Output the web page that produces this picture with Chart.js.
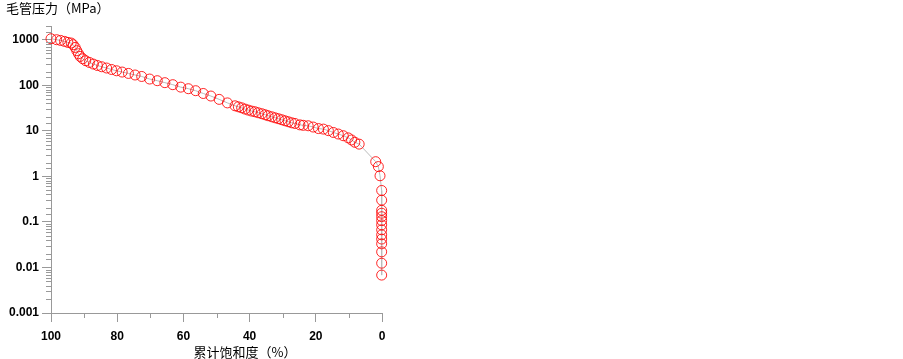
<!DOCTYPE html>
<html>
<head>
<meta charset="utf-8">
<script src="https://cdn.jsdelivr.net/npm/chart.js@4"></script>
<style>
  body { margin: 0; background: #fff; }
</style>
</head>
<body>
<canvas id="myChart" width="903" height="359"></canvas>
<script>
// data
const saturation = [100, 98.3, 97.1, 95.9, 94.9, 93.9, 93.3, 92.7, 92.2, 91.7,
  91.2, 90.4, 89.5, 88.4, 87.2, 86.0, 84.7, 83.2, 81.7, 80.2,
  78.5, 76.6, 74.6, 72.6, 70.2, 67.9, 65.6, 63.2, 60.8, 58.5,
  56.3, 54.0, 51.7, 49.2, 46.7,
  44.4, 43.4, 42.4, 41.4, 40.4, 39.4, 38.4, 37.4, 36.3, 35.3,
  34.4, 33.3, 32.3, 31.3, 30.3, 29.3, 28.3, 27.3, 26.3, 24.8,
  23.8, 22.3, 20.8, 19.2, 17.7, 16.2, 14.7, 13.2, 11.7, 10.2,
  9.2, 8.2, 6.9,
  1.9, 1.1, 0.6,
  0.1, 0.1, 0.1, 0.1, 0.1, 0.1, 0.1, 0.1, 0.1, 0.1, 0.1, 0.1, 0.1, 0.1];

const pressure = [1050, 1000, 965, 918, 873, 846, 776, 677, 573, 492,
  430, 382, 345, 317, 292, 272, 255, 239, 222, 208,
  195, 182, 168, 156, 137, 126, 114, 103, 91, 84,
  76, 66, 58, 49, 41,
  35.4, 33.6, 32.0, 30.0, 28.5, 27.1, 26.2, 24.9, 23.7, 22.5,
  21.4, 20.3, 19.3, 18.4, 17.5, 16.6, 15.8, 15.0, 14.5, 13.5,
  13.2, 12.9, 12.1, 11.2, 10.9, 10.1, 9.2, 8.5, 7.8, 7.0,
  6.3, 5.6, 5.1,
  2.1, 1.64, 1.03,
  0.49, 0.30, 0.18, 0.155, 0.13, 0.107, 0.086, 0.067, 0.052, 0.042, 0.033, 0.022, 0.0124, 0.0068];

const yTicks = [0.001, 0.01, 0.1, 1, 10, 100, 1000];
const yTickLabels = ['0.001', '0.01', '0.1', '1', '10', '100', '1000'];
const xTicks = [100, 80, 60, 40, 20, 0];

const yTitle = '毛管压力（MPa）';
const xTitle = '累计饱和度（%）';

const axisColor = '#999999';

function majorY(v) {
  return yTicks.findIndex(t => Math.abs(v - t) < t * 1e-6);
}

// short ticks + the two titles
const extras = {
  id: 'extras',
  afterDraw(chart) {
    const ctx = chart.ctx;
    const area = chart.chartArea;
    const x = chart.scales.x;
    const y = chart.scales.y;
    ctx.save();
    ctx.strokeStyle = axisColor;
    ctx.lineWidth = 1;
    ctx.beginPath();
    y.ticks.forEach(t => {
      if (majorY(t.value) >= 0) return;
      const py = Math.round(y.getPixelForValue(t.value)) + 0.5;
      ctx.moveTo(area.left - 5, py);
      ctx.lineTo(area.left, py);
    });
    x.ticks.forEach(t => {
      if (xTicks.includes(t.value)) return;
      const px = Math.round(x.getPixelForValue(t.value)) + 0.5;
      ctx.moveTo(px, area.bottom);
      ctx.lineTo(px, area.bottom + 5);
    });
    ctx.stroke();

    ctx.fillStyle = '#000';
    ctx.font = '13px "Noto Sans CJK SC"';
    ctx.textBaseline = 'middle';
    ctx.textAlign = 'left';
    ctx.fillText(yTitle, 6, 8);
    ctx.textAlign = 'center';
    ctx.fillText(xTitle, 245, 352);
    ctx.restore();
  }
};

const ctx = document.getElementById('myChart');
new Chart(ctx, {
  type: 'scatter',
  data: {
    datasets: [{
      data: saturation.map((s, i) => ({ x: s, y: pressure[i] })),
      showLine: true,
      clip: false,
      borderColor: '#bbbbbb',
      borderWidth: 1,
      pointRadius: 5,
      pointHoverRadius: 5,
      pointBorderWidth: 1,
      pointBorderColor: 'rgba(255, 0, 0, 0.85)',
      pointBackgroundColor: 'rgba(0, 0, 0, 0)'
    }]
  },
  options: {
    responsive: false,
    animation: false,
    layout: {
      padding: { top: 26, right: 521, left: 0, bottom: 0 }
    },
    plugins: {
      legend: { display: false },
      tooltip: { enabled: false }
    },
    scales: {
      x: {
        type: 'linear',
        reverse: true,
        min: 0,
        max: 100,
        afterFit: scale => { scale.height = 46; },
        border: { color: axisColor, width: 1 },
        grid: {
          drawOnChartArea: false,
          tickLength: 9,
          color: c => xTicks.includes(c.tick.value) ? axisColor : 'rgba(0,0,0,0)'
        },
        ticks: {
          stepSize: 10,
          autoSkip: false,
          maxRotation: 0,
          padding: 7,
          color: '#000',
          font: { family: 'Liberation Sans', size: 12, weight: 'bold' },
          callback: v => xTicks.includes(v) ? String(v) : ''
        }
      },
      y: {
        type: 'logarithmic',
        min: 0.001,
        max: 2000,
        afterFit: scale => { scale.width = 51; },
        border: { color: axisColor, width: 1 },
        grid: {
          drawOnChartArea: false,
          tickLength: 9,
          color: c => majorY(c.tick.value) >= 0 ? axisColor : 'rgba(0,0,0,0)'
        },
        ticks: {
          autoSkip: false,
          padding: 3,
          color: '#000',
          font: { family: 'Liberation Sans', size: 12, weight: 'bold' },
          callback: v => {
            const i = majorY(v);
            return i >= 0 ? yTickLabels[i] : '';
          }
        }
      }
    }
  },
  plugins: [extras]
});
</script>
</body>
</html>
